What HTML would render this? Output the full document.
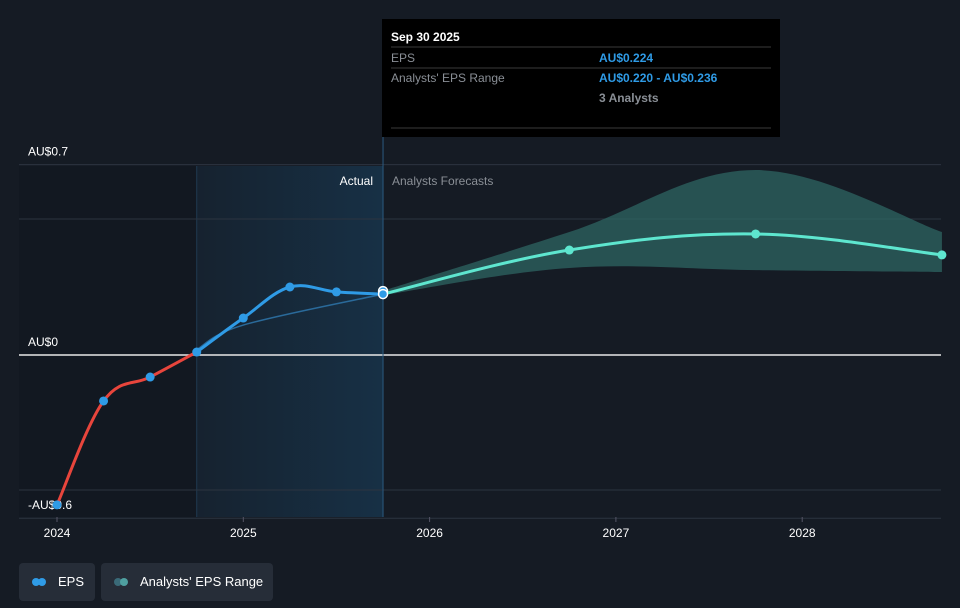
<!DOCTYPE html>
<html><head><meta charset="utf-8"><style>
body{margin:0;background:#151b24;font-family:"Liberation Sans",sans-serif;}
svg{display:block}
.leg{position:absolute;top:563px;height:38px;background:#262d38;border-radius:4px;color:#fff;font-size:13px;line-height:38px}
</style></head><body>
<div style="position:relative;width:960px;height:608px">
<svg id="c" width="960" height="608">
<defs>
<linearGradient id="sh" x1="0" x2="1"><stop offset="0" stop-color="#1a4a6e" stop-opacity="0.15"/><stop offset="1" stop-color="#1a4a6e" stop-opacity="0.45"/></linearGradient>
</defs>
</svg>
<div class="leg" style="left:19px;width:76px">
<span style="position:absolute;left:13px;top:15px;width:8px;height:8px;border-radius:4px;background:#2f9be6"></span><span style="position:absolute;left:19px;top:15px;width:8px;height:8px;border-radius:4px;background:#2f9be6"></span><span style="position:absolute;left:39px">EPS</span></div>
<div class="leg" style="left:101px;width:172px">
<span style="position:absolute;left:13px;top:15px;width:8px;height:8px;border-radius:4px;background:#3a6a78"></span><span style="position:absolute;left:19px;top:15px;width:8px;height:8px;border-radius:4px;background:#4fa0a0"></span><span style="position:absolute;left:39px">Analysts' EPS Range</span></div>
</div>
<script>
const years=[2024,2025,2026,2027,2028];
const actualT=[2024.0,2024.25,2024.5,2024.75,2025.0,2025.25,2025.5,2025.75];
const actualV=[-0.551,-0.169,-0.081,0.011,0.136,0.25,0.232,0.224];
const fcT=[2025.75,2026.75,2027.75,2028.75];
const fcV=[0.224,0.386,0.445,0.368];
const rangeLo=[0.220,0.32,0.312,0.305];
const rangeHi=[0.236,0.452,0.68,0.452];
const NS='http://www.w3.org/2000/svg';
const svg=document.getElementById('c');
const x=t=>57+(t-2024)*186.3;
const y=v=>355-v*272;
function el(tag,attrs,parent){const e=document.createElementNS(NS,tag);for(const k in attrs)e.setAttribute(k,attrs[k]);(parent||svg).appendChild(e);return e;}
function path(pts){
let d='M'+pts[0][0]+','+pts[0][1];
for(let i=0;i<pts.length-1;i++){const p0=pts[i-1]||pts[i],p1=pts[i],p2=pts[i+1],p3=pts[i+2]||p2;const k=0.18;
d+=' C'+(p1[0]+(p2[0]-p0[0])*k)+','+(p1[1]+(p2[1]-p0[1])*k)+' '+(p2[0]-(p3[0]-p1[0])*k)+','+(p2[1]-(p3[1]-p1[1])*k)+' '+p2[0]+','+p2[1];}
return d;}
let r=el('rect',{x:19,y:166,width:x(2024.75)-19,height:351,fill:'#121821'});

r=el('rect',{x:x(2024.75),y:166,width:x(2025.75)-x(2024.75),height:351,fill:'url(#sh)'});

el('line',{x1:x(2024.75),x2:x(2024.75),y1:166,y2:517,stroke:'#1f3a52'});
[0.7,0.5,-0.5,-0.6].forEach(v=>{let yy=y(v)+(v==-0.5?-1:0);let g=el('line',{x1:19,x2:941,y1:yy,y2:yy,stroke:'#2c3440'});
});
let z=el('line',{x1:19,x2:941,y1:y(0),y2:y(0),stroke:'#e8e8e8','stroke-width':1.5});

[['AU$0.7',0.7],['AU$0',0],['-AU$0.6',-0.6]].forEach(([t,v])=>{let e=el('text',{x:28,y:y(v)-9,fill:'#fff','font-size':12});e.textContent=t;
});
years.forEach(yr=>{el('line',{x1:x(yr),x2:x(yr),y1:517,y2:522,stroke:'#556'});let e=el('text',{x:x(yr),y:537,fill:'#fff','font-size':12,'text-anchor':'middle'});e.textContent=yr;
});
const hi=fcT.map((t,i)=>[x(t),y(rangeHi[i])]),lo=fcT.map((t,i)=>[x(t),y(rangeLo[i])]).reverse();
let bd=path(hi)+' L'+lo[0][0]+','+lo[0][1]+path(lo).slice(path(lo).indexOf(' C'))+'Z';
let b=el('path',{d:bd,fill:'#2f6a66','fill-opacity':0.7});

el('line',{x1:x(2025.75),x2:x(2025.75),y1:20,y2:517,stroke:'#2a5a80'});
el('path',{d:path([[x(2024.75),y(0.02)],[x(2025.0),y(0.11)],[x(2025.75),y(0.224)]]),stroke:'#2a6a9a','stroke-width':1.5,fill:'none'});
const pts=actualT.map((t,i)=>[x(t),y(actualV[i])]);
const neg=pts.slice(0,4),pos=pts.slice(3);
let l=el('path',{d:path(neg),stroke:'#e8453c','stroke-width':3,fill:'none'});

l=el('path',{d:path(pos),stroke:'#2f9be6','stroke-width':3,fill:'none'});

l=el('path',{d:path(fcT.map((t,i)=>[x(t),y(fcV[i])])),stroke:'#5ee6cf','stroke-width':3,fill:'none'});

pts.forEach(p=>{let c=el('circle',{cx:p[0],cy:p[1],r:4.5,fill:'#2f9be6'});});
fcT.slice(1).forEach((t,i)=>{let c=el('circle',{cx:x(t),cy:y(fcV[i+1]),r:4.5,fill:'#5ee6cf'});});
let c=el('circle',{cx:x(2025.75),cy:y(0.224)-3,r:4.5,fill:'#2f9be6',stroke:'#fff','stroke-width':1.5});
c=el('circle',{cx:x(2025.75),cy:y(0.224),r:4.5,fill:'#2f9be6',stroke:'#fff','stroke-width':1.5});

let t=el('text',{x:373,y:185,fill:'#fff','font-size':12,'text-anchor':'end'});t.textContent='Actual';

t=el('text',{x:392,y:185,fill:'#8a8f96','font-size':12});t.textContent='Analysts Forecasts';

const g=el('g',{});
el('rect',{x:382,y:19,width:398,height:118,fill:'#000'},g);
[47,68,128].forEach(yy=>el('line',{x1:391,x2:771,y1:yy,y2:yy,stroke:'#3a3a3a'},g));
[['Sep 30 2025',391,41,'#fff','bold'],['EPS',391,62,'#8a8f96','normal'],['AU$0.224',599,62,'#2f9be6','bold'],["Analysts' EPS Range",391,82,'#8a8f96','normal'],['AU$0.220 - AU$0.236',599,82,'#2f9be6','bold'],['3 Analysts',599,102,'#8a8f96','bold']].forEach(([s,xx,yy,f,w])=>{let e=el('text',{x:xx,y:yy,fill:f,'font-size':12,'font-weight':w},g);e.textContent=s;});
</script>
</body></html>
